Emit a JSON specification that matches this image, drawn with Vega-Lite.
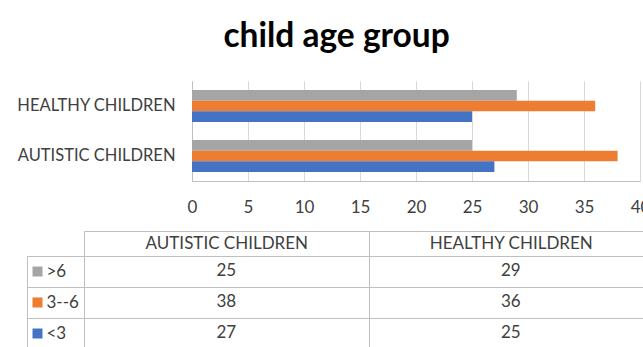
{
  "$schema": "https://vega.github.io/schema/vega-lite/v6.json",
  "padding": {"left": 16, "top": 19, "right": 0, "bottom": 0},
  "background": "white",
  "title": {"text": "child age group", "font": "Lato", "fontSize": 33.5, "fontWeight": "bold", "color": "#000000", "anchor": "middle", "offset": 27, "dx": 2},
  "datasets": {
    "age": [
      {"group": "AUTISTIC CHILDREN", "series": ">6", "value": 25},
      {"group": "AUTISTIC CHILDREN", "series": "3--6", "value": 38},
      {"group": "AUTISTIC CHILDREN", "series": "<3", "value": 27},
      {"group": "HEALTHY CHILDREN", "series": ">6", "value": 29},
      {"group": "HEALTHY CHILDREN", "series": "3--6", "value": 36},
      {"group": "HEALTHY CHILDREN", "series": "<3", "value": 25}
    ]
  },
  "spacing": 7,
  "vconcat": [
    {
      "width": 617,
      "height": 100,
      "data": {"name": "age"},
      "mark": {"type": "bar"},
      "encoding": {
        "y": {
          "field": "group", "type": "nominal",
          "sort": ["HEALTHY CHILDREN", "AUTISTIC CHILDREN"],
          "scale": {"paddingInner": 0.36, "paddingOuter": 0.18},
          "axis": {"title": null, "offset": -165, "ticks": false, "tickSize": 0, "domain": true, "domainColor": "#BFBFBF", "grid": false, "labelFontSize": 16.5, "labelPadding": 17, "labelColor": "#404040", "labelFont": "Lato"}
        },
        "x": {
          "field": "value", "type": "quantitative",
          "scale": {"domain": [0, 40], "nice": false, "range": [165, 613]},
          "axis": {"title": null, "values": [0, 5, 10, 15, 20, 25, 30, 35, 40], "ticks": false, "tickSize": 0, "grid": true, "gridColor": "#D9D9D9", "domainColor": "#BFBFBF", "labelFontSize": 17, "labelBaseline": "middle", "labelPadding": 26, "labelFlush": false, "labelOverlap": false, "labelColor": "#404040", "labelFont": "Lato"}
        },
        "yOffset": {"field": "series", "type": "nominal", "sort": [">6", "3--6", "<3"], "scale": {"paddingInner": 0, "paddingOuter": 0}},
        "color": {
          "field": "series", "type": "nominal",
          "scale": {"domain": [">6", "3--6", "<3"], "range": ["#A5A5A5", "#ED7D31", "#4472C4"]},
          "legend": null
        }
      }
    },
    {
      "width": 626,
      "height": 118,
      "data": {"name": "age"},
      "layer": [
        {
          "mark": {"type": "text", "fontSize": 17, "color": "#404040", "font": "Lato", "baseline": "middle"},
          "encoding": {
            "x": {
              "field": "group", "type": "nominal",
              "sort": ["AUTISTIC CHILDREN", "HEALTHY CHILDREN"],
              "scale": {"paddingInner": 0, "paddingOuter": 0.1004, "align": 1},
              "axis": {"orient": "top", "title": null, "ticks": false, "tickSize": 0, "tickBand": "extent", "grid": true, "gridColor": "#BFBFBF", "domain": true, "domainColor": "#BFBFBF", "domainDash": [0, 57, 2000], "labelFontSize": 17, "labelBaseline": "middle", "labelPadding": -12.5, "labelColor": "#404040", "labelAngle": 0, "labelFont": "Lato"}
            },
            "y": {
              "field": "series", "type": "nominal",
              "sort": [">6", "3--6", "<3"],
              "scale": {"paddingInner": 0, "paddingOuter": 0.403, "align": 1},
              "axis": {"orient": "left", "title": null, "ticks": false, "tickSize": 0, "tickBand": "extent", "grid": true, "gridColor": "#BFBFBF", "domain": true, "domainColor": "#BFBFBF", "domainDash": [0, 25, 2000], "labelFontSize": 17, "labelAlign": "left", "labelBaseline": "middle", "labelPadding": -19, "labelColor": "#404040", "labelFont": "Lato", "minExtent": 9}
            },
            "text": {"field": "value", "type": "quantitative"}
          }
        },
        {
          "mark": {"type": "rect", "fillOpacity": 0, "strokeOpacity": 0},
          "encoding": {
            "y": {
              "field": "series", "type": "nominal",
              "sort": [">6", "3--6", "<3"],
              "axis": {"orient": "left", "title": null, "labels": false, "domain": false, "grid": false, "ticks": true, "tickSize": 10, "tickWidth": 10, "tickCap": "butt", "offset": -15, "minExtent": 0,
                "tickColor": {"condition": [{"test": "datum.value === '>6'", "value": "#A5A5A5"}, {"test": "datum.value === '3--6'", "value": "#ED7D31"}], "value": "#4472C4"}}
            }
          }
        }
      ],
      "resolve": {"axis": {"y": "independent"}}
    }
  ],
  "config": {"font": "Lato", "view": {"stroke": null}}
}
